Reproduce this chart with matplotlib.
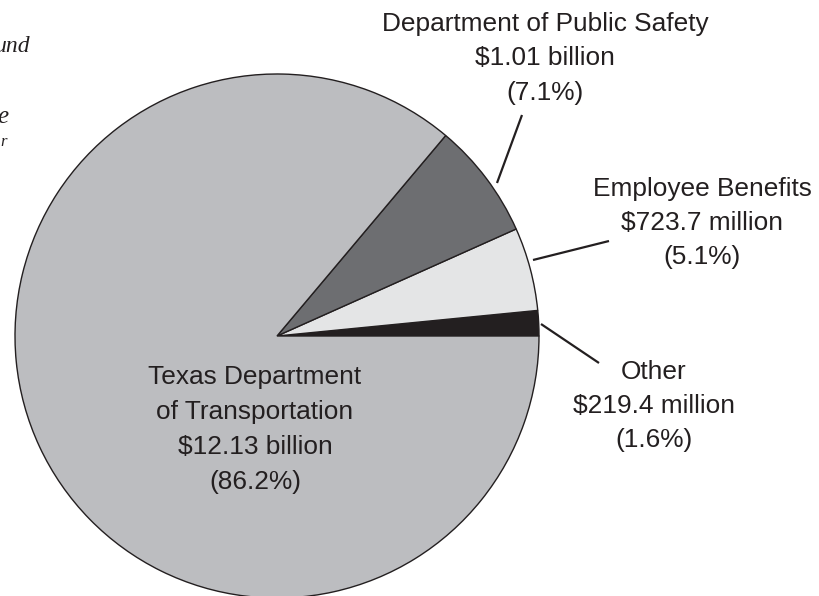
import matplotlib
matplotlib.use("Agg")
import matplotlib.pyplot as plt

# Data (in millions of dollars), counterclockwise from 3 o'clock
categories = ["Other", "Employee Benefits", "Department of Public Safety",
              "Texas Department of Transportation"]
values = [219.4, 723.7, 1010.0, 12130.0]
amount_labels = ["$219.4 million", "$723.7 million", "$1.01 billion", "$12.13 billion"]
pct_labels = ["(1.6%)", "(5.1%)", "(7.1%)", "(86.2%)"]
colors = ["#231f20", "#e4e5e6", "#6d6e71", "#bcbdc0"]

W, H = 819, 596
fig = plt.figure(figsize=(W / 100, H / 100), dpi=100)
ax = fig.add_axes([0, 0, 1, 1])

def Y(y):
    return H - y

ax.pie(values, colors=colors, startangle=0, counterclock=True,
       center=(277, Y(336)), radius=262,
       wedgeprops=dict(edgecolor="#231f20", linewidth=1.0))
ax.set_xlim(0, W)
ax.set_ylim(0, H)
ax.set_aspect("equal")
ax.axis("off")

txt = dict(family="Liberation Sans", fontsize=18.9, color="#231f20",
           ha="center", va="center")

# Texas DOT label (inside)
for s, y in zip(["Texas Department", "of Transportation", amount_labels[3], pct_labels[3]],
                [377, 412, 447, 482]):
    ax.text(255, Y(y), s, **txt)

# Department of Public Safety
for s, y in zip(["Department of Public Safety", amount_labels[2], pct_labels[2]],
                [24, 58, 93]):
    ax.text(545, Y(y), s, **txt)

# Employee Benefits
for s, y in zip(["Employee Benefits", amount_labels[1], pct_labels[1]],
                [189, 223, 257]):
    ax.text(702, Y(y), s, **txt)

# Other
for s, y in zip(["Other", amount_labels[0], pct_labels[0]],
                [372, 406, 440]):
    ax.text(654, Y(y), s, **txt)

# Leader lines
line_kw = dict(color="#231f20", linewidth=1.6, solid_capstyle="butt")
ax.plot([497, 522], [Y(183), Y(115)], **line_kw)
ax.plot([533, 609], [Y(260), Y(241)], **line_kw)
ax.plot([541, 599], [Y(324), Y(363)], **line_kw)

# Fragments of surrounding page text (cut off at left edge)
frag = dict(family="Liberation Serif", style="italic", color="#231f20", ha="right",
            va="baseline")
ax.text(30, Y(52), "und", fontsize=17, **frag)
ax.text(8, Y(123), "e", fontsize=18, **frag)
ax.text(7, Y(146), "r", fontsize=12, **frag)

fig.savefig("out.png", dpi=100)
